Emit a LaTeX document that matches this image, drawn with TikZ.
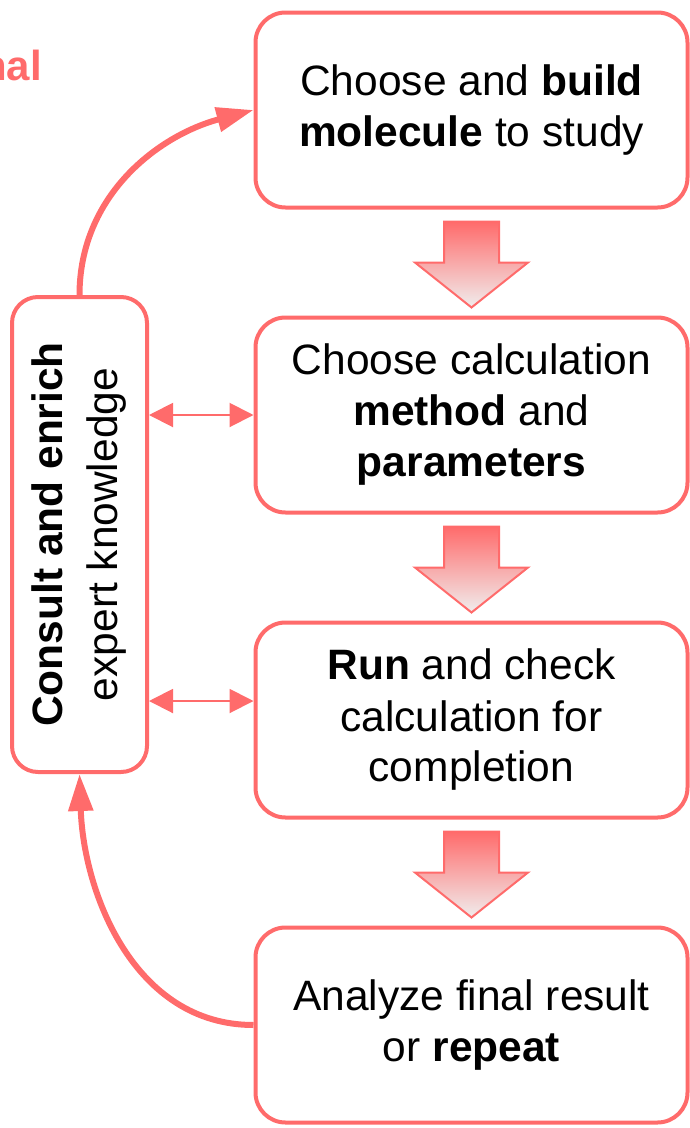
\documentclass[tikz,border=0pt]{standalone}
\usepackage{fontspec}
\setmainfont{Liberation Sans}
\usetikzlibrary{positioning, calc, arrows.meta}
\definecolor{FlowRed}{HTML}{FF6B6B}
\definecolor{ArrowGrey}{HTML}{F0EDED}

\begin{document}
\begin{tikzpicture}[x=1pt, y=1pt,
    stepbox/.style={draw=FlowRed, line width=4pt, rounded corners=30pt, fill=white,
        minimum width=432pt, minimum height=195pt, align=center,
        font=\fontsize{42.5pt}{51pt}\selectfont},
    sidebox/.style={draw=FlowRed, line width=4pt, rounded corners=26pt,
        minimum width=135pt, minimum height=475pt},
    looparrow/.style={draw=FlowRed, line width=6pt, -{Triangle[length=37pt, width=24pt]}},
    linkarrow/.style={draw=FlowRed, line width=2pt,
        {Triangle[length=24pt, width=24pt]}-{Triangle[length=24pt, width=24pt]}},
    blockarrow/.style={top color=FlowRed, bottom color=ArrowGrey, draw=FlowRed,
        line width=2pt, line join=miter}]
    \useasboundingbox (0,0) rectangle (689,-1128);

    % cut-off heading at the left edge
    \node[anchor=base east, inner sep=0pt, text=FlowRed,
        font=\fontsize{42pt}{51pt}\selectfont\bfseries] (heading) at (42,-80) {nal};

    % the four steps
    \node[stepbox] (build) at (471.5,-110) {Choose and \textbf{build}\\\textbf{molecule} to study};
    \node[stepbox, below=106pt of build] (method) {Choose calculation\\\textbf{method} and\\\textbf{parameters}};
    \node[stepbox, below=106pt of method] (run) {\textbf{Run} and check\\calculation for\\completion};
    \node[stepbox, below=106pt of run] (analyze) {Analyze final result\\or \textbf{repeat}};

    % expert knowledge box
    \node[sidebox] (side) at (79.5,-534.5) {};
    \node[rotate=90, align=center, font=\fontsize{42.5pt}{55pt}\selectfont] (sidetext) at (side.center)
        {\textbf{Consult and enrich}\\expert knowledge};

    % block arrows between the steps
    \foreach \a/\b in {build/method, method/run, run/analyze}
        \shade[blockarrow] ($(\a.south)!0.5!(\b.north)$) ++(-27.5,41) -- ++(55,0) -- ++(0,-41)
            -- ++(29,0) -- ++(-56.5,-45) -- ++(-56.5,45) -- ++(29,0) -- cycle;

    % links to the knowledge box
    \coordinate (runlink) at ($(run.west)+(0,19)$);
    \draw[linkarrow] (side.east |- method.west) -- (method.west);
    \draw[linkarrow] (side.east |- runlink) -- (runlink);

    % loop back
    \draw[looparrow] (side.north) to[out=90, in=195] (build.west);
    \draw[looparrow] (analyze.west) to[out=180, in=-88] (side.south);
\end{tikzpicture}
\end{document}
